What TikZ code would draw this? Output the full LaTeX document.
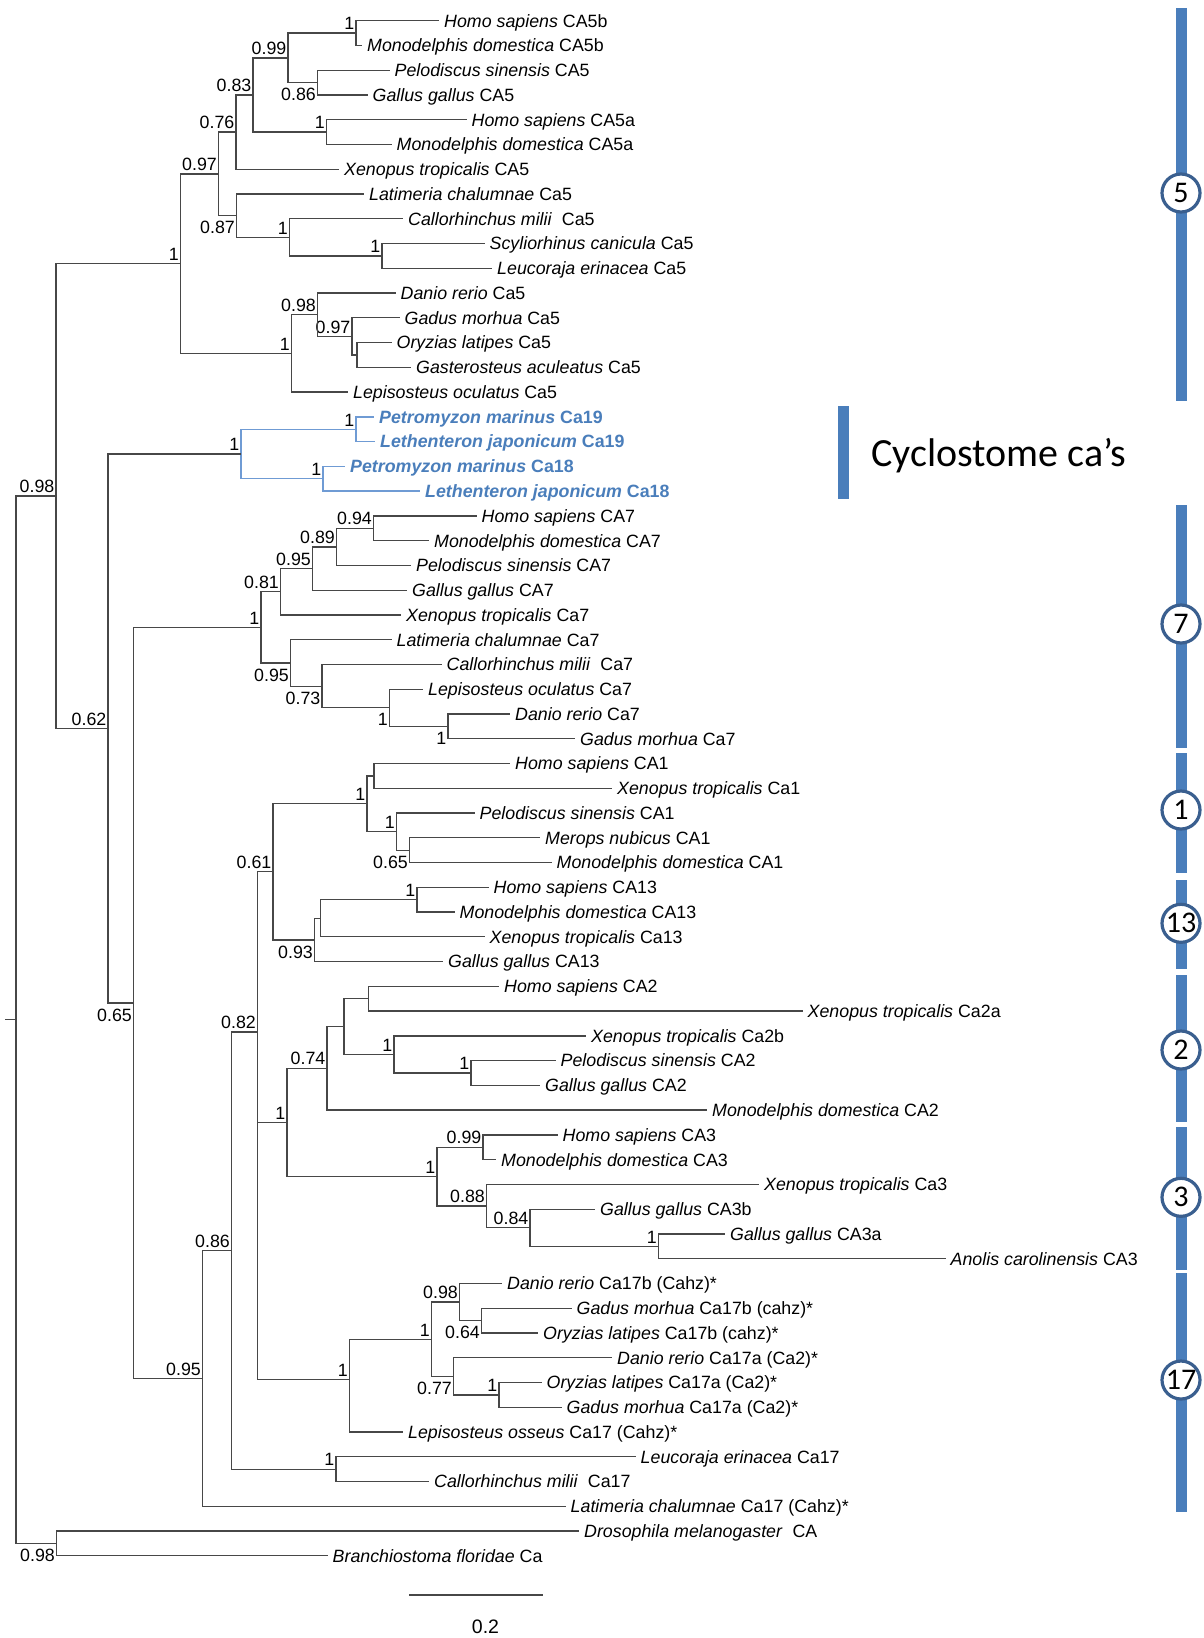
\documentclass[tikz,border=0pt]{standalone}
\usepackage{fontspec}
\setmainfont{Liberation Sans}
\newfontfamily\calibrifont{Carlito}
\usepackage{tikz}
\usepackage{xcolor}
\definecolor{TreeGray}{HTML}{474747}
\definecolor{CycloBlue}{HTML}{4A7EBB}
\definecolor{CycloLine}{HTML}{6F9BD4}
\definecolor{BarBlue}{HTML}{4A7EBB}
\definecolor{RingBlue}{HTML}{3A5F8F}
\newcommand{\treefont}{\fontsize{17.8}{20}\selectfont}
\tikzset{
  branch/.style={draw=TreeGray, line width=1.3pt},
  cyclobranch/.style={draw=CycloLine, line width=1.3pt},
  leaf/.style={anchor=west, inner xsep=5pt, inner ysep=0pt, text height=12.7pt, text depth=0pt, font=\treefont},
  cycloleaf/.style={leaf, text=CycloBlue, font=\treefont\bfseries},
  post/.style={inner xsep=1.5pt, inner ysep=3pt, font=\treefont},
  postb/.style={inner xsep=1.5pt, inner ysep=5.5pt, font=\treefont},
  cladebar/.style={fill=BarBlue, minimum width=11pt, inner sep=0pt},
  cladenum/.style={circle, draw=RingBlue, line width=3.2pt, fill=white, minimum size=38pt, inner sep=0pt, font=\calibrifont\fontsize{30}{32}\selectfont}
}

\begin{document}
\begin{tikzpicture}[x=1pt, y=-1pt]
\path[use as bounding box, fill=white] (0,0) rectangle (1203,1638);

% CA5
\node[leaf] (hs5b) at (439,20.7) {\textit{Homo sapiens} CA5b};
\node[leaf] (md5b) at (362,45.5) {\textit{Monodelphis domestica} CA5b};
\node[leaf] (ps5) at (389.5,70.2) {\textit{Pelodiscus sinensis} CA5};
\node[leaf] (gg5) at (367.5,95.0) {\textit{Gallus gallus} CA5};
\node[leaf] (hs5a) at (466.5,119.7) {\textit{Homo sapiens} CA5a};
\node[leaf] (md5a) at (391.5,144.5) {\textit{Monodelphis domestica} CA5a};
\node[leaf] (xt5) at (339,169.3) {\textit{Xenopus tropicalis} CA5};
\node[leaf] (lc5) at (364,194.0) {\textit{Latimeria chalumnae} Ca5};
\node[leaf] (cm5) at (403,218.8) {\textit{Callorhinchus milii}\ \ Ca5};
\node[leaf] (sc5) at (484.5,243.5) {\textit{Scyliorhinus canicula} Ca5};
\node[leaf] (le5) at (492,268.3) {\textit{Leucoraja erinacea} Ca5};
\node[leaf] (dr5) at (395.5,293.1) {\textit{Danio rerio} Ca5};
\node[leaf] (gm5) at (399.5,317.8) {\textit{Gadus morhua} Ca5};
\node[leaf] (ol5) at (391.5,342.6) {\textit{Oryzias latipes} Ca5};
\node[leaf] (ga5) at (411,367.3) {\textit{Gasterosteus aculeatus} Ca5};
\node[leaf] (lo5) at (348,392.1) {\textit{Lepisosteus oculatus} Ca5};
\coordinate[label={[post]above left:1}] (k5a) at (356,33.1);
\coordinate[label={[postb]below left:0.86}] (k5b) at (317.5,82.6);
\coordinate[label={[post]above left:0.99}] (k5c) at (288,57.85);
\coordinate[label={[post]above left:1}] (k5d) at (326.5,132.1);
\coordinate[label={[post]above left:0.83}] (k5e) at (253,95);
\coordinate[label={[post]above left:0.76}] (k5f) at (236,132.1);
\coordinate[label={[post]above left:1}] (k5g) at (382,255.9);
\coordinate[label={[post]above left:1}] (k5h) at (289.5,237.35);
\coordinate[label={[postb]below left:0.87}] (k5i) at (236.5,215.7);
\coordinate[label={[post]above left:0.97}] (k5j) at (218.5,173.9);
\coordinate (k5k) at (357,354.95);
\coordinate[label={[post]above left:0.97}] (k5l) at (352,336.4);
\coordinate[label={[post]above left:0.98}] (k5m) at (317.5,314.75);
\coordinate[label={[post]above left:1}] (k5n) at (291.5,353.4);
\coordinate[label={[post]above left:1}] (k5) at (180.5,263.65);
\draw[branch] (k5a) |- (hs5b) (k5a) |- (md5b);
\draw[branch] (k5b) |- (ps5) (k5b) |- (gg5);
\draw[branch] (k5c) |- (k5a) (k5c) |- (k5b);
\draw[branch] (k5d) |- (hs5a) (k5d) |- (md5a);
\draw[branch] (k5e) |- (k5c) (k5e) |- (k5d);
\draw[branch] (k5f) |- (k5e) (k5f) |- (xt5);
\draw[branch] (k5g) |- (sc5) (k5g) |- (le5);
\draw[branch] (k5h) |- (cm5) (k5h) |- (k5g);
\draw[branch] (k5i) |- (lc5) (k5i) |- (k5h);
\draw[branch] (k5j) |- (k5f) (k5j) |- (k5i);
\draw[branch] (k5k) |- (ol5) (k5k) |- (ga5);
\draw[branch] (k5l) |- (gm5) (k5l) |- (k5k);
\draw[branch] (k5m) |- (dr5) (k5m) |- (k5l);
\draw[branch] (k5n) |- (k5m) (k5n) |- (lo5);
\draw[branch] (k5) |- (k5j) (k5) |- (k5n);

% cyclostomes
\node[cycloleaf] (pm19) at (374,416.9) {\textit{Petromyzon marinus} Ca19};
\node[cycloleaf] (lj19) at (375,441.6) {\textit{Lethenteron japonicum} Ca19};
\node[cycloleaf] (pm18) at (345,466.4) {\textit{Petromyzon marinus} Ca18};
\node[cycloleaf] (lj18) at (420,491.1) {\textit{Lethenteron japonicum} Ca18};
\coordinate[label={[post]above left:1}] (cy19) at (356,429.25);
\coordinate[label={[post]above left:1}] (cy18) at (323,478.75);
\coordinate[label={[post]above left:1}] (cyc) at (241,454);
\draw[cyclobranch] (cy19) |- (pm19) (cy19) |- (lj19);
\draw[cyclobranch] (cy18) |- (pm18) (cy18) |- (lj18);
\draw[cyclobranch] (cyc) |- (cy19) (cyc) |- (cy18);

% CA7
\node[leaf] (hs7) at (476.5,515.9) {\textit{Homo sapiens} CA7};
\node[leaf] (md7) at (429,540.7) {\textit{Monodelphis domestica} CA7};
\node[leaf] (ps7) at (411,565.4) {\textit{Pelodiscus sinensis} CA7};
\node[leaf] (gg7) at (407,590.2) {\textit{Gallus gallus} CA7};
\node[leaf] (xt7) at (401,614.9) {\textit{Xenopus tropicalis} Ca7};
\node[leaf] (lc7) at (391.5,639.7) {\textit{Latimeria chalumnae} Ca7};
\node[leaf] (cm7) at (441.5,664.5) {\textit{Callorhinchus milii}\ \ Ca7};
\node[leaf] (lo7) at (423,689.2) {\textit{Lepisosteus oculatus} Ca7};
\node[leaf] (dr7) at (510,714.0) {\textit{Danio rerio} Ca7};
\node[leaf] (gm7) at (575,738.7) {\textit{Gadus morhua} Ca7};
\coordinate[label={[post]above left:0.94}] (k7a) at (373.5,528.3);
\coordinate[label={[post]above left:0.89}] (k7b) at (336.5,546.85);
\coordinate[label={[post]above left:0.95}] (k7c) at (312.5,568.5);
\coordinate[label={[post]above left:0.81}] (k7d) at (280.5,591.7);
\coordinate[label={[postb]below left:1}] (k7e) at (448,726.35);
\coordinate[label={[postb]below left:1}] (k7f) at (389.5,707.8);
\coordinate[label={[postb]below left:0.73}] (k7g) at (322,686.15);
\coordinate[label={[postb]below left:0.95}] (k7h) at (290.5,662.9);
\coordinate[label={[post]above left:1}] (k7) at (261,627.3);
\draw[branch] (k7a) |- (hs7) (k7a) |- (md7);
\draw[branch] (k7b) |- (k7a) (k7b) |- (ps7);
\draw[branch] (k7c) |- (k7b) (k7c) |- (gg7);
\draw[branch] (k7d) |- (k7c) (k7d) |- (xt7);
\draw[branch] (k7e) |- (dr7) (k7e) |- (gm7);
\draw[branch] (k7f) |- (lo7) (k7f) |- (k7e);
\draw[branch] (k7g) |- (cm7) (k7g) |- (k7f);
\draw[branch] (k7h) |- (lc7) (k7h) |- (k7g);
\draw[branch] (k7) |- (k7d) (k7) |- (k7h);

% CA1 and CA13
\node[leaf] (hs1) at (510,763.5) {\textit{Homo sapiens} CA1};
\node[leaf] (xt1) at (612,788.3) {\textit{Xenopus tropicalis} Ca1};
\node[leaf] (ps1) at (474.5,813.0) {\textit{Pelodiscus sinensis} CA1};
\node[leaf] (mn1) at (540,837.8) {\textit{Merops nubicus} CA1};
\node[leaf] (md1) at (551.5,862.5) {\textit{Monodelphis domestica} CA1};
\node[leaf] (hs13) at (488.5,887.3) {\textit{Homo sapiens} CA13};
\node[leaf] (md13) at (454.5,912.1) {\textit{Monodelphis domestica} CA13};
\node[leaf] (xt13) at (484.5,936.8) {\textit{Xenopus tropicalis} Ca13};
\node[leaf] (gg13) at (443,961.6) {\textit{Gallus gallus} CA13};
\coordinate (k1a) at (374,775.9);
\coordinate[label={[postb]below left:0.65}] (k1b) at (409.5,850.15);
\coordinate[label={[post]above left:1}] (k1c) at (396.5,831.6);
\coordinate[label={[post]above left:1}] (k1) at (367,803.75);
\coordinate[label={[post]above left:1}] (k13a) at (417,899.7);
\coordinate (k13b) at (320.5,918.25);
\coordinate[label={[postb]below left:0.93}] (k13) at (314.5,939.9);
\coordinate[label={[post]above left:0.61}] (k113) at (273,871.8);
\draw[branch] (k1a) |- (hs1) (k1a) |- (xt1);
\draw[branch] (k1b) |- (mn1) (k1b) |- (md1);
\draw[branch] (k1c) |- (ps1) (k1c) |- (k1b);
\draw[branch] (k1) |- (k1a) (k1) |- (k1c);
\draw[branch] (k13a) |- (hs13) (k13a) |- (md13);
\draw[branch] (k13b) |- (k13a) (k13b) |- (xt13);
\draw[branch] (k13) |- (k13b) (k13) |- (gg13);
\draw[branch] (k113) |- (k1) (k113) |- (k13);

% CA2 and CA3
\node[leaf] (hs2) at (499,986.3) {\textit{Homo sapiens} CA2};
\node[leaf] (xt2a) at (802.5,1011.1) {\textit{Xenopus tropicalis} Ca2a};
\node[leaf] (xt2b) at (586,1035.9) {\textit{Xenopus tropicalis} Ca2b};
\node[leaf] (ps2) at (555.5,1060.6) {\textit{Pelodiscus sinensis} CA2};
\node[leaf] (gg2) at (540,1085.4) {\textit{Gallus gallus} CA2};
\node[leaf] (md2) at (707,1110.1) {\textit{Monodelphis domestica} CA2};
\node[leaf] (hs3) at (557.5,1134.9) {\textit{Homo sapiens} CA3};
\node[leaf] (md3) at (496,1159.7) {\textit{Monodelphis domestica} CA3};
\node[leaf] (xt3) at (759,1184.4) {\textit{Xenopus tropicalis} Ca3};
\node[leaf] (gg3b) at (595,1209.2) {\textit{Gallus gallus} CA3b};
\node[leaf] (gg3a) at (725,1233.9) {\textit{Gallus gallus} CA3a};
\node[leaf] (ac3) at (945.5,1258.7) {\textit{Anolis carolinensis} CA3};
\coordinate (k2a) at (368.5,998.7);
\coordinate[label={[post]above left:1}] (k2b) at (471,1073.0);
\coordinate[label={[post]above left:1}] (k2c) at (394,1054.45);
\coordinate (k2d) at (344,1026.6);
\coordinate[label={[post]above left:0.74}] (k2) at (327,1068.35);
\coordinate[label={[post]above left:0.99}] (k3a) at (483,1147.3);
\coordinate[label={[post]above left:1}] (k3b) at (658.5,1246.3);
\coordinate[label={[post]above left:0.84}] (k3c) at (530,1227.75);
\coordinate[label={[post]above left:0.88}] (k3d) at (486.5,1206.1);
\coordinate[label={[post]above left:1}] (k3) at (437,1176.7);
\coordinate[label={[post]above left:1}] (k23) at (287,1122.5);
\draw[branch] (k2a) |- (hs2) (k2a) |- (xt2a);
\draw[branch] (k2b) |- (ps2) (k2b) |- (gg2);
\draw[branch] (k2c) |- (xt2b) (k2c) |- (k2b);
\draw[branch] (k2d) |- (k2a) (k2d) |- (k2c);
\draw[branch] (k2) |- (k2d) (k2) |- (md2);
\draw[branch] (k3a) |- (hs3) (k3a) |- (md3);
\draw[branch] (k3b) |- (gg3a) (k3b) |- (ac3);
\draw[branch] (k3c) |- (gg3b) (k3c) |- (k3b);
\draw[branch] (k3d) |- (xt3) (k3d) |- (k3c);
\draw[branch] (k3) |- (k3a) (k3) |- (k3d);
\draw[branch] (k23) |- (k2) (k23) |- (k3);

% CA17
\node[leaf] (dr17b) at (502,1283.5) {\textit{Danio rerio} Ca17b (Cahz)*};
\node[leaf] (gm17b) at (571.5,1308.2) {\textit{Gadus morhua} Ca17b (cahz)*};
\node[leaf] (ol17b) at (538,1333.0) {\textit{Oryzias latipes} Ca17b (cahz)*};
\node[leaf] (dr17a) at (612,1357.7) {\textit{Danio rerio} Ca17a (Ca2)*};
\node[leaf] (ol17a) at (541.5,1382.5) {\textit{Oryzias latipes} Ca17a (Ca2)*};
\node[leaf] (gm17a) at (561.5,1407.3) {\textit{Gadus morhua} Ca17a (Ca2)*};
\node[leaf] (los17) at (403,1432.0) {\textit{Lepisosteus osseus} Ca17 (Cahz)*};
\node[leaf] (le17) at (635.5,1456.8) {\textit{Leucoraja erinacea} Ca17};
\node[leaf] (cm17) at (429,1481.5) {\textit{Callorhinchus milii}\ \ Ca17};
\node[leaf] (lc17) at (565.5,1506.3) {\textit{Latimeria chalumnae} Ca17 (Cahz)*};
\coordinate[label={[postb]below left:0.64}] (k17a) at (481.5,1320.6);
\coordinate[label={[post]above left:0.98}] (k17b) at (459.5,1302.05);
\coordinate[label={[post]above left:1}] (k17c) at (499,1394.9);
\coordinate[label={[postb]below left:0.77}] (k17d) at (453.5,1376.3);
\coordinate[label={[post]above left:1}] (k17e) at (431.5,1339.2);
\coordinate[label={[post]above left:1}] (k17) at (349.5,1379.5);
\coordinate[label={[post]above left:1}] (k17s) at (336,1469.15);
\draw[branch] (k17a) |- (gm17b) (k17a) |- (ol17b);
\draw[branch] (k17b) |- (dr17b) (k17b) |- (k17a);
\draw[branch] (k17c) |- (ol17a) (k17c) |- (gm17a);
\draw[branch] (k17d) |- (dr17a) (k17d) |- (k17c);
\draw[branch] (k17e) |- (k17b) (k17e) |- (k17d);
\draw[branch] (k17) |- (k17e) (k17) |- (los17);
\draw[branch] (k17s) |- (le17) (k17s) |- (cm17);

% deeper nodes
\coordinate[label={[post]above left:0.82}] (kab) at (257.5,1032);
\coordinate[label={[post]above left:0.86}] (kac) at (231.5,1250.6);
\coordinate[label={[post]above left:0.95}] (kad) at (202.5,1378.45);
\coordinate[label={[postb]below left:0.65}] (kae) at (133.5,1002.9);
\coordinate[label={[post]above left:0.62}] (kcy) at (108,728.45);
\coordinate[label={[post]above left:0.98}] (kvert) at (56,496.05);
\draw[branch] (kab) |- (k113) (kab) |- (k23) (kab) |- (k17);
\draw[branch] (kac) |- (kab) (kac) |- (k17s);
\draw[branch] (kad) |- (kac) (kad) |- (lc17);
\draw[branch] (kae) |- (k7) (kae) |- (kad);
\draw[branch] (kcy) |- (cyc) (kcy) |- (kae);
\draw[branch] (kvert) |- (k5) (kvert) |- (kcy);

% outgroup and root
\node[leaf] (dm) at (579,1531.1) {\textit{Drosophila melanogaster}\ \ CA};
\node[leaf] (bf) at (327.5,1555.8) {\textit{Branchiostoma floridae} Ca};
\coordinate[label={[postb]below left:0.98}] (kout) at (56.5,1543.45);
\coordinate (root) at (16,1019.75);
\coordinate (rootstub) at (5,1019.75);
\draw[branch] (kout) |- (dm) (kout) |- (bf);
\draw[branch] (root) |- (kvert) (root) |- (kout);
\draw[branch] (rootstub) -- (root);

% scale bar
\coordinate (sbleft) at (409.3,1595);
\coordinate (sbright) at (542.5,1595);
\draw[branch] (sbleft) -- (sbright);
\node[font=\fontsize{19.5}{22}\selectfont] (sbtext) at (485.5,1627) {0.2};

% clade bars
\node[cladebar, minimum width=10.5pt, minimum height=93.3pt] (barcyc) at (843.5,452.35) {};
\node[anchor=base west, inner sep=0pt, font=\calibrifont\fontsize{40}{44}\selectfont] (cyctext) at (871,466.7) {Cyclostome ca’s};
\node[cladebar, minimum height=392.7pt] (bar5) at (1181.5,204.65) {};
\node[cladebar, minimum height=243.3pt] (bar7) at (1181.5,626.65) {};
\node[cladebar, minimum height=120.6pt] (bar1) at (1181.5,813) {};
\node[cladebar, minimum height=89.3pt] (bar13) at (1181.5,924.65) {};
\node[cladebar, minimum height=146.7pt] (bar2) at (1181.5,1048.35) {};
\node[cladebar, minimum height=143.3pt] (bar3) at (1181.5,1198.35) {};
\node[cladebar, minimum height=238.4pt] (bar17) at (1181.5,1392.5) {};
\node[cladenum] (num5) at (1181,193) {5};
\node[cladenum] (num7) at (1181,624) {7};
\node[cladenum] (num1) at (1181,810) {1};
\node[cladenum] (num13) at (1181,923.3) {13};
\node[cladenum] (num2) at (1181,1050) {2};
\node[cladenum] (num3) at (1181,1197.3) {3};
\node[cladenum] (num17) at (1181,1380) {17};
\end{tikzpicture}
\end{document}
